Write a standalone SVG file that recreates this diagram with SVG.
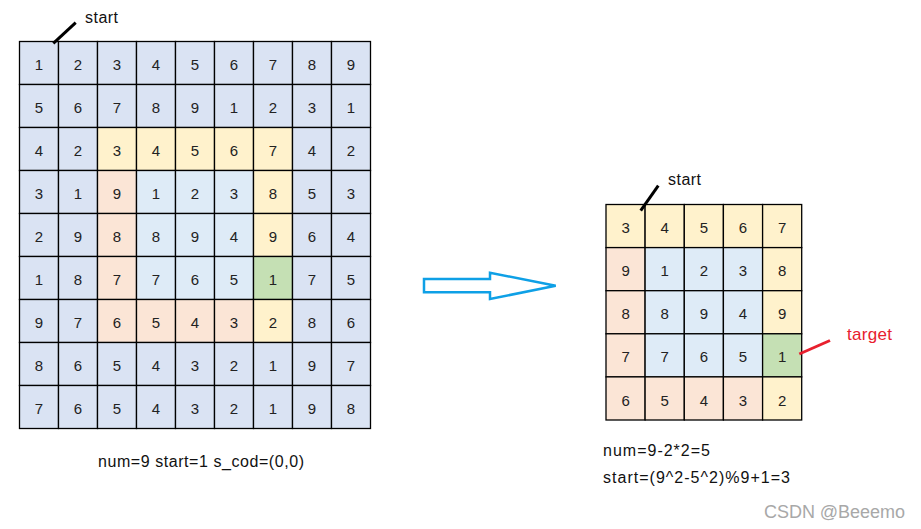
<svg xmlns="http://www.w3.org/2000/svg" width="921" height="529" viewBox="0 0 921 529">
<style>
.c rect{stroke:#000;stroke-width:1.3}
.c text{font-family:"Liberation Sans",Arial,sans-serif;font-size:15px;fill:#222;text-anchor:middle;transform:translateY(1.5px)}
.l{fill:#dae3f3}.y{fill:#fff2cc}.p{fill:#fbe5d6}.b{fill:#deebf7}.g{fill:#c5e0b4}
.lbl{font-family:"Liberation Sans",Arial,sans-serif;font-size:16px;fill:#111}
</style>
<rect width="921" height="529" fill="#fff"/>
<g id="leftGrid">
<g id="L1-1" class="c"><rect class="l" x="19.5" y="41.5" width="39" height="43"/><text x="39" y="68.5">1</text></g>
<g id="L1-2" class="c"><rect class="l" x="58.5" y="41.5" width="39" height="43"/><text x="78" y="68.5">2</text></g>
<g id="L1-3" class="c"><rect class="l" x="97.5" y="41.5" width="39" height="43"/><text x="117" y="68.5">3</text></g>
<g id="L1-4" class="c"><rect class="l" x="136.5" y="41.5" width="39" height="43"/><text x="156" y="68.5">4</text></g>
<g id="L1-5" class="c"><rect class="l" x="175.5" y="41.5" width="39" height="43"/><text x="195" y="68.5">5</text></g>
<g id="L1-6" class="c"><rect class="l" x="214.5" y="41.5" width="39" height="43"/><text x="234" y="68.5">6</text></g>
<g id="L1-7" class="c"><rect class="l" x="253.5" y="41.5" width="39" height="43"/><text x="273" y="68.5">7</text></g>
<g id="L1-8" class="c"><rect class="l" x="292.5" y="41.5" width="39" height="43"/><text x="312" y="68.5">8</text></g>
<g id="L1-9" class="c"><rect class="l" x="331.5" y="41.5" width="39" height="43"/><text x="351" y="68.5">9</text></g>

<g id="L2-1" class="c"><rect class="l" x="19.5" y="84.5" width="39" height="43"/><text x="39" y="111.5">5</text></g>
<g id="L2-2" class="c"><rect class="l" x="58.5" y="84.5" width="39" height="43"/><text x="78" y="111.5">6</text></g>
<g id="L2-3" class="c"><rect class="l" x="97.5" y="84.5" width="39" height="43"/><text x="117" y="111.5">7</text></g>
<g id="L2-4" class="c"><rect class="l" x="136.5" y="84.5" width="39" height="43"/><text x="156" y="111.5">8</text></g>
<g id="L2-5" class="c"><rect class="l" x="175.5" y="84.5" width="39" height="43"/><text x="195" y="111.5">9</text></g>
<g id="L2-6" class="c"><rect class="l" x="214.5" y="84.5" width="39" height="43"/><text x="234" y="111.5">1</text></g>
<g id="L2-7" class="c"><rect class="l" x="253.5" y="84.5" width="39" height="43"/><text x="273" y="111.5">2</text></g>
<g id="L2-8" class="c"><rect class="l" x="292.5" y="84.5" width="39" height="43"/><text x="312" y="111.5">3</text></g>
<g id="L2-9" class="c"><rect class="l" x="331.5" y="84.5" width="39" height="43"/><text x="351" y="111.5">1</text></g>

<g id="L3-1" class="c"><rect class="l" x="19.5" y="127.5" width="39" height="43"/><text x="39" y="154.5">4</text></g>
<g id="L3-2" class="c"><rect class="l" x="58.5" y="127.5" width="39" height="43"/><text x="78" y="154.5">2</text></g>
<g id="L3-3" class="c"><rect class="y" x="97.5" y="127.5" width="39" height="43"/><text x="117" y="154.5">3</text></g>
<g id="L3-4" class="c"><rect class="y" x="136.5" y="127.5" width="39" height="43"/><text x="156" y="154.5">4</text></g>
<g id="L3-5" class="c"><rect class="y" x="175.5" y="127.5" width="39" height="43"/><text x="195" y="154.5">5</text></g>
<g id="L3-6" class="c"><rect class="y" x="214.5" y="127.5" width="39" height="43"/><text x="234" y="154.5">6</text></g>
<g id="L3-7" class="c"><rect class="y" x="253.5" y="127.5" width="39" height="43"/><text x="273" y="154.5">7</text></g>
<g id="L3-8" class="c"><rect class="l" x="292.5" y="127.5" width="39" height="43"/><text x="312" y="154.5">4</text></g>
<g id="L3-9" class="c"><rect class="l" x="331.5" y="127.5" width="39" height="43"/><text x="351" y="154.5">2</text></g>

<g id="L4-1" class="c"><rect class="l" x="19.5" y="170.5" width="39" height="43"/><text x="39" y="197.5">3</text></g>
<g id="L4-2" class="c"><rect class="l" x="58.5" y="170.5" width="39" height="43"/><text x="78" y="197.5">1</text></g>
<g id="L4-3" class="c"><rect class="p" x="97.5" y="170.5" width="39" height="43"/><text x="117" y="197.5">9</text></g>
<g id="L4-4" class="c"><rect class="b" x="136.5" y="170.5" width="39" height="43"/><text x="156" y="197.5">1</text></g>
<g id="L4-5" class="c"><rect class="b" x="175.5" y="170.5" width="39" height="43"/><text x="195" y="197.5">2</text></g>
<g id="L4-6" class="c"><rect class="b" x="214.5" y="170.5" width="39" height="43"/><text x="234" y="197.5">3</text></g>
<g id="L4-7" class="c"><rect class="y" x="253.5" y="170.5" width="39" height="43"/><text x="273" y="197.5">8</text></g>
<g id="L4-8" class="c"><rect class="l" x="292.5" y="170.5" width="39" height="43"/><text x="312" y="197.5">5</text></g>
<g id="L4-9" class="c"><rect class="l" x="331.5" y="170.5" width="39" height="43"/><text x="351" y="197.5">3</text></g>

<g id="L5-1" class="c"><rect class="l" x="19.5" y="213.5" width="39" height="43"/><text x="39" y="240.5">2</text></g>
<g id="L5-2" class="c"><rect class="l" x="58.5" y="213.5" width="39" height="43"/><text x="78" y="240.5">9</text></g>
<g id="L5-3" class="c"><rect class="p" x="97.5" y="213.5" width="39" height="43"/><text x="117" y="240.5">8</text></g>
<g id="L5-4" class="c"><rect class="b" x="136.5" y="213.5" width="39" height="43"/><text x="156" y="240.5">8</text></g>
<g id="L5-5" class="c"><rect class="b" x="175.5" y="213.5" width="39" height="43"/><text x="195" y="240.5">9</text></g>
<g id="L5-6" class="c"><rect class="b" x="214.5" y="213.5" width="39" height="43"/><text x="234" y="240.5">4</text></g>
<g id="L5-7" class="c"><rect class="y" x="253.5" y="213.5" width="39" height="43"/><text x="273" y="240.5">9</text></g>
<g id="L5-8" class="c"><rect class="l" x="292.5" y="213.5" width="39" height="43"/><text x="312" y="240.5">6</text></g>
<g id="L5-9" class="c"><rect class="l" x="331.5" y="213.5" width="39" height="43"/><text x="351" y="240.5">4</text></g>

<g id="L6-1" class="c"><rect class="l" x="19.5" y="256.5" width="39" height="43"/><text x="39" y="283.5">1</text></g>
<g id="L6-2" class="c"><rect class="l" x="58.5" y="256.5" width="39" height="43"/><text x="78" y="283.5">8</text></g>
<g id="L6-3" class="c"><rect class="p" x="97.5" y="256.5" width="39" height="43"/><text x="117" y="283.5">7</text></g>
<g id="L6-4" class="c"><rect class="b" x="136.5" y="256.5" width="39" height="43"/><text x="156" y="283.5">7</text></g>
<g id="L6-5" class="c"><rect class="b" x="175.5" y="256.5" width="39" height="43"/><text x="195" y="283.5">6</text></g>
<g id="L6-6" class="c"><rect class="b" x="214.5" y="256.5" width="39" height="43"/><text x="234" y="283.5">5</text></g>
<g id="L6-7" class="c"><rect class="g" x="253.5" y="256.5" width="39" height="43"/><text x="273" y="283.5">1</text></g>
<g id="L6-8" class="c"><rect class="l" x="292.5" y="256.5" width="39" height="43"/><text x="312" y="283.5">7</text></g>
<g id="L6-9" class="c"><rect class="l" x="331.5" y="256.5" width="39" height="43"/><text x="351" y="283.5">5</text></g>

<g id="L7-1" class="c"><rect class="l" x="19.5" y="299.5" width="39" height="43"/><text x="39" y="326.5">9</text></g>
<g id="L7-2" class="c"><rect class="l" x="58.5" y="299.5" width="39" height="43"/><text x="78" y="326.5">7</text></g>
<g id="L7-3" class="c"><rect class="p" x="97.5" y="299.5" width="39" height="43"/><text x="117" y="326.5">6</text></g>
<g id="L7-4" class="c"><rect class="p" x="136.5" y="299.5" width="39" height="43"/><text x="156" y="326.5">5</text></g>
<g id="L7-5" class="c"><rect class="p" x="175.5" y="299.5" width="39" height="43"/><text x="195" y="326.5">4</text></g>
<g id="L7-6" class="c"><rect class="p" x="214.5" y="299.5" width="39" height="43"/><text x="234" y="326.5">3</text></g>
<g id="L7-7" class="c"><rect class="y" x="253.5" y="299.5" width="39" height="43"/><text x="273" y="326.5">2</text></g>
<g id="L7-8" class="c"><rect class="l" x="292.5" y="299.5" width="39" height="43"/><text x="312" y="326.5">8</text></g>
<g id="L7-9" class="c"><rect class="l" x="331.5" y="299.5" width="39" height="43"/><text x="351" y="326.5">6</text></g>

<g id="L8-1" class="c"><rect class="l" x="19.5" y="342.5" width="39" height="43"/><text x="39" y="369.5">8</text></g>
<g id="L8-2" class="c"><rect class="l" x="58.5" y="342.5" width="39" height="43"/><text x="78" y="369.5">6</text></g>
<g id="L8-3" class="c"><rect class="l" x="97.5" y="342.5" width="39" height="43"/><text x="117" y="369.5">5</text></g>
<g id="L8-4" class="c"><rect class="l" x="136.5" y="342.5" width="39" height="43"/><text x="156" y="369.5">4</text></g>
<g id="L8-5" class="c"><rect class="l" x="175.5" y="342.5" width="39" height="43"/><text x="195" y="369.5">3</text></g>
<g id="L8-6" class="c"><rect class="l" x="214.5" y="342.5" width="39" height="43"/><text x="234" y="369.5">2</text></g>
<g id="L8-7" class="c"><rect class="l" x="253.5" y="342.5" width="39" height="43"/><text x="273" y="369.5">1</text></g>
<g id="L8-8" class="c"><rect class="l" x="292.5" y="342.5" width="39" height="43"/><text x="312" y="369.5">9</text></g>
<g id="L8-9" class="c"><rect class="l" x="331.5" y="342.5" width="39" height="43"/><text x="351" y="369.5">7</text></g>

<g id="L9-1" class="c"><rect class="l" x="19.5" y="385.5" width="39" height="43"/><text x="39" y="412.5">7</text></g>
<g id="L9-2" class="c"><rect class="l" x="58.5" y="385.5" width="39" height="43"/><text x="78" y="412.5">6</text></g>
<g id="L9-3" class="c"><rect class="l" x="97.5" y="385.5" width="39" height="43"/><text x="117" y="412.5">5</text></g>
<g id="L9-4" class="c"><rect class="l" x="136.5" y="385.5" width="39" height="43"/><text x="156" y="412.5">4</text></g>
<g id="L9-5" class="c"><rect class="l" x="175.5" y="385.5" width="39" height="43"/><text x="195" y="412.5">3</text></g>
<g id="L9-6" class="c"><rect class="l" x="214.5" y="385.5" width="39" height="43"/><text x="234" y="412.5">2</text></g>
<g id="L9-7" class="c"><rect class="l" x="253.5" y="385.5" width="39" height="43"/><text x="273" y="412.5">1</text></g>
<g id="L9-8" class="c"><rect class="l" x="292.5" y="385.5" width="39" height="43"/><text x="312" y="412.5">9</text></g>
<g id="L9-9" class="c"><rect class="l" x="331.5" y="385.5" width="39" height="43"/><text x="351" y="412.5">8</text></g>
</g>

<g id="rightGrid">
<g id="R1-1" class="c"><rect class="y" x="606" y="204.5" width="39.1" height="43.1"/><text x="625.6" y="231.5">3</text></g>
<g id="R1-2" class="c"><rect class="y" x="645.1" y="204.5" width="39.2" height="43.1"/><text x="664.7" y="231.5">4</text></g>
<g id="R1-3" class="c"><rect class="y" x="684.3" y="204.5" width="39.1" height="43.1"/><text x="703.9" y="231.5">5</text></g>
<g id="R1-4" class="c"><rect class="y" x="723.4" y="204.5" width="39.2" height="43.1"/><text x="743" y="231.5">6</text></g>
<g id="R1-5" class="c"><rect class="y" x="762.6" y="204.5" width="39.1" height="43.1"/><text x="782.1" y="231.5">7</text></g>

<g id="R2-1" class="c"><rect class="p" x="606" y="247.6" width="39.1" height="43.1"/><text x="625.6" y="274.7">9</text></g>
<g id="R2-2" class="c"><rect class="b" x="645.1" y="247.6" width="39.2" height="43.1"/><text x="664.7" y="274.7">1</text></g>
<g id="R2-3" class="c"><rect class="b" x="684.3" y="247.6" width="39.1" height="43.1"/><text x="703.9" y="274.7">2</text></g>
<g id="R2-4" class="c"><rect class="b" x="723.4" y="247.6" width="39.2" height="43.1"/><text x="743" y="274.7">3</text></g>
<g id="R2-5" class="c"><rect class="y" x="762.6" y="247.6" width="39.1" height="43.1"/><text x="782.1" y="274.7">8</text></g>

<g id="R3-1" class="c"><rect class="p" x="606" y="290.7" width="39.1" height="43.1"/><text x="625.6" y="317.8">8</text></g>
<g id="R3-2" class="c"><rect class="b" x="645.1" y="290.7" width="39.2" height="43.1"/><text x="664.7" y="317.8">8</text></g>
<g id="R3-3" class="c"><rect class="b" x="684.3" y="290.7" width="39.1" height="43.1"/><text x="703.9" y="317.8">9</text></g>
<g id="R3-4" class="c"><rect class="b" x="723.4" y="290.7" width="39.2" height="43.1"/><text x="743" y="317.8">4</text></g>
<g id="R3-5" class="c"><rect class="y" x="762.6" y="290.7" width="39.1" height="43.1"/><text x="782.1" y="317.8">9</text></g>

<g id="R4-1" class="c"><rect class="p" x="606" y="333.8" width="39.1" height="43.1"/><text x="625.6" y="360.9">7</text></g>
<g id="R4-2" class="c"><rect class="b" x="645.1" y="333.8" width="39.2" height="43.1"/><text x="664.7" y="360.9">7</text></g>
<g id="R4-3" class="c"><rect class="b" x="684.3" y="333.8" width="39.1" height="43.1"/><text x="703.9" y="360.9">6</text></g>
<g id="R4-4" class="c"><rect class="b" x="723.4" y="333.8" width="39.2" height="43.1"/><text x="743" y="360.9">5</text></g>
<g id="R4-5" class="c"><rect class="g" x="762.6" y="333.8" width="39.1" height="43.1"/><text x="782.1" y="360.9">1</text></g>

<g id="R5-1" class="c"><rect class="p" x="606" y="376.9" width="39.1" height="43.1"/><text x="625.6" y="404">6</text></g>
<g id="R5-2" class="c"><rect class="p" x="645.1" y="376.9" width="39.2" height="43.1"/><text x="664.7" y="404">5</text></g>
<g id="R5-3" class="c"><rect class="p" x="684.3" y="376.9" width="39.1" height="43.1"/><text x="703.9" y="404">4</text></g>
<g id="R5-4" class="c"><rect class="p" x="723.4" y="376.9" width="39.2" height="43.1"/><text x="743" y="404">3</text></g>
<g id="R5-5" class="c"><rect class="y" x="762.6" y="376.9" width="39.1" height="43.1"/><text x="782.1" y="404">2</text></g>
</g>

<g id="connectors">
<line x1="53.3" y1="43.3" x2="75.7" y2="22.7" stroke="#000" stroke-width="3"/>
<line x1="640.7" y1="210.7" x2="658.3" y2="185.7" stroke="#000" stroke-width="3"/>
<line x1="799.3" y1="354" x2="830" y2="340.5" stroke="#e8202e" stroke-width="3"/>
<polygon id="bigArrow" points="424,279 490,279 490,272.7 555.7,285.7 490,299 490,292.3 424,292.3" fill="#fff" stroke="#0ea0e6" stroke-width="2.5"/>
</g>

<g id="labels">
<text class="lbl" x="85" y="22.5" textLength="33">start</text>
<text class="lbl" x="668" y="185" textLength="33">start</text>
<text class="lbl" x="847" y="340" style="fill:#e8202e;font-size:17px" textLength="45">target</text>
<text class="lbl" x="98" y="466.5" textLength="206">num=9 start=1 s_cod=(0,0)</text>
<text class="lbl" x="603" y="456" textLength="107">num=9-2*2=5</text>
<text class="lbl" x="603" y="483" textLength="187">start=(9^2-5^2)%9+1=3</text>
<text class="lbl" x="764" y="518" style="fill:#a8a8a8;font-size:18px" textLength="141">CSDN @Beeemo</text>
</g>
</svg>
